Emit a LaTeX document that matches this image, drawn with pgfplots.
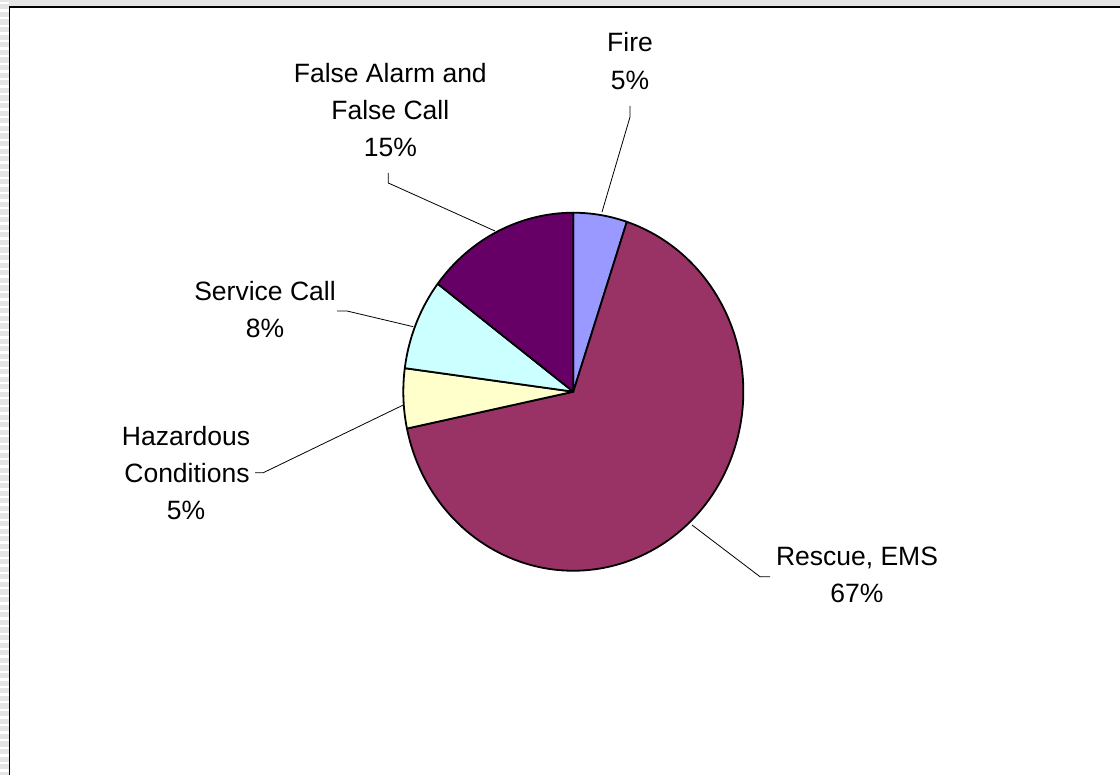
\documentclass[border=0pt]{standalone}
\usepackage{fontspec}
\setmainfont{Liberation Sans}
\usepackage{pgfplots}
\usepackage{pgfplotstable}
\pgfplotsset{compat=1.18}

\definecolor{fireC}{HTML}{9999FF}
\definecolor{rescueC}{HTML}{993366}
\definecolor{hazC}{HTML}{FFFFCC}
\definecolor{servC}{HTML}{CCFFFF}
\definecolor{falseC}{HTML}{660066}
\definecolor{frameC}{HTML}{E4E4E4}

% share of incidents (%), clockwise from 12 o'clock
\pgfplotstableread{
name    value colour
Fire    5.1   fireC
Rescue  66.6  rescueC
Hazard  5.4   hazC
Service 8.2   servC
False   14.7  falseC
}\piedata

% label line: x centre, baseline y, text
\newcommand\lbl[3]{\node[anchor=base, inner sep=0pt,
  font=\fontsize{26.6}{37}\selectfont] at (axis cs:#1,#2) {#3};}

\begin{document}
\begin{tikzpicture}
\begin{axis}[
    width=1120bp, height=775bp, scale only axis,
    xmin=0, xmax=1120, ymin=0, ymax=775, y dir=reverse,
    hide axis, clip=false,
]
\fill[white] (axis cs:0,0) rectangle (axis cs:1120,775);

% sheet frame at the top and left
\fill[frameC] (axis cs:0,0) rectangle (axis cs:1120,6.5);
\fill[frameC] (axis cs:0,0) rectangle (axis cs:9,775);
\pgfplotsinvokeforeach{0,...,101}{
  \draw[white, line width=2.5bp] (axis cs:0,{#1*7.6+3}) -- (axis cs:8.5,{#1*7.6+3});
}
\draw[black, line width=1.6bp] (axis cs:9.3,775) -- (axis cs:9.3,6.8) -- (axis cs:1120,6.8);

% slices
\xdef\startangle{90}
\pgfplotsinvokeforeach{0,...,4}{
  \pgfplotstablegetelem{#1}{value}\of\piedata
  \let\sliceval\pgfplotsretval
  \pgfplotstablegetelem{#1}{colour}\of\piedata
  \let\slicecol\pgfplotsretval
  \pgfmathsetmacro\endangle{\startangle-3.6*\sliceval}
  \edef\slice{\noexpand\filldraw[fill=\slicecol, draw=black, line width=1.8bp, line join=round]
    (axis cs:573.3,391.7) -- ++({170bp*cos(\startangle)},{179bp*sin(\startangle)})
    arc[start angle=\startangle, end angle=\endangle, x radius=170bp, y radius=179bp] -- cycle;}
  \slice
  \xdef\startangle{\endangle}
}

% leader lines
\draw[line width=0.8bp] (axis cs:630,106) -- (axis cs:630,117) -- (axis cs:602,212);
\draw[line width=0.8bp] (axis cs:388.3,173) -- (axis cs:388.3,183) -- (axis cs:495,231);
\draw[line width=0.8bp] (axis cs:337,311) -- (axis cs:347,311) -- (axis cs:413.3,326.7);
\draw[line width=0.8bp] (axis cs:255,472.7) -- (axis cs:263.3,472.7) -- (axis cs:403.3,405);
\draw[line width=0.8bp] (axis cs:770,576.7) -- (axis cs:760,576.7) -- (axis cs:692,525);

% labels
\lbl{630}{52}{Fire}
\lbl{630}{90}{5\%}
\lbl{390.3}{83}{False Alarm and}
\lbl{390.3}{120}{False Call}
\lbl{390.3}{157}{15\%}
\lbl{265}{300.7}{Service Call}
\lbl{265}{337.5}{8\%}
\lbl{186}{445}{Hazardous}
\lbl{187}{482}{Conditions}
\lbl{186}{519}{5\%}
\lbl{857}{565}{Rescue, EMS}
\lbl{857}{602}{67\%}
\end{axis}
\pgfresetboundingbox
\useasboundingbox (current axis.south west) rectangle (current axis.north east);
\end{tikzpicture}
\end{document}
